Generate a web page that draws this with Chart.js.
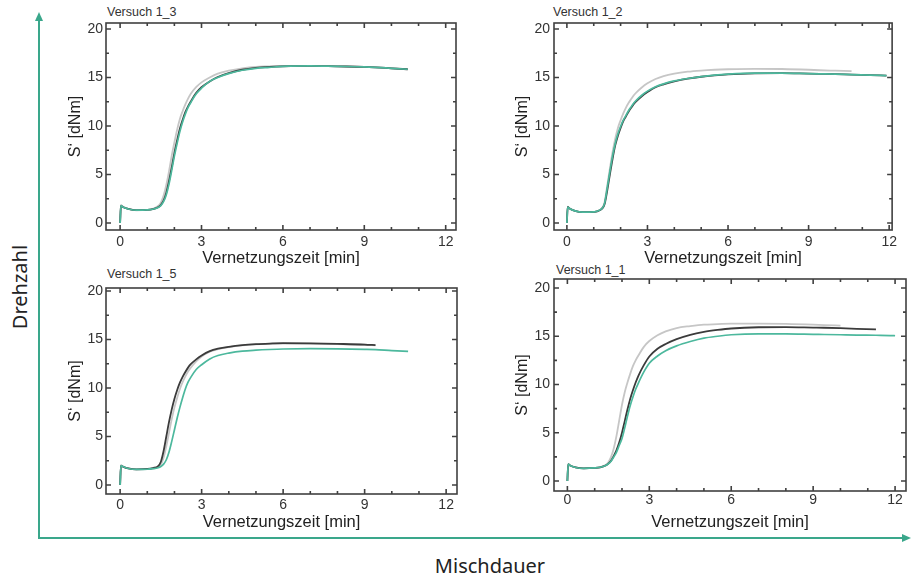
<!DOCTYPE html>
<html>
<head>
<meta charset="utf-8">
<script src="https://cdn.jsdelivr.net/npm/chart.js@4.4.1/dist/chart.umd.min.js"></script>
<style>
  html, body { margin: 0; padding: 0; background: #fff; }
  body { width: 911px; height: 574px; position: relative; overflow: hidden; font-family: "Liberation Sans", Arial, sans-serif; }
  .panel { position: absolute; }
  .ptitle { position: absolute; font-size: 12.5px; line-height: 13px; color: #333; white-space: nowrap; }
  .big { position: absolute; font-family: "Noto Sans", sans-serif; font-size: 20px; color: #222; white-space: nowrap; }
</style>
</head>
<body>
<svg width="911" height="574" style="position:absolute;left:0;top:0">
  <line x1="39" y1="539" x2="39" y2="20" stroke="#3aa78b" stroke-width="2"/>
  <polygon points="39,12 35,21 43,21" fill="#3aa78b"/>
  <line x1="38" y1="538" x2="903" y2="538" stroke="#3aa78b" stroke-width="2"/>
  <polygon points="911,538 902,534 902,542" fill="#3aa78b"/>
</svg>
<div class="big" style="left:19px;top:287px;transform:translate(-50%,-50%) rotate(-90deg)">Drehzahl</div>
<div class="big" style="left:490px;top:565px;transform:translate(-50%,-50%)">Mischdauer</div>

<div class="ptitle" style="left:107px;top:6px">Versuch 1_3</div>
<div class="ptitle" style="left:553px;top:6px">Versuch 1_2</div>
<div class="ptitle" style="left:107px;top:268px">Versuch 1_5</div>
<div class="ptitle" style="left:556px;top:264px">Versuch 1_1</div>

<div class="panel" id="p13"><canvas id="c13"></canvas></div>
<div class="panel" id="p12"><canvas id="c12"></canvas></div>
<div class="panel" id="p15"><canvas id="c15"></canvas></div>
<div class="panel" id="p11"><canvas id="c11"></canvas></div>

<script>
// time grid [min], shared by all curves
const minutes = [0, 0.03, 0.1, 0.3, 0.6, 1.0, 1.2, 1.4, 1.5, 1.6, 1.7, 1.8, 1.9, 2.0, 2.1, 2.2, 2.3, 2.4, 2.5, 2.6,
                 2.8, 3.0, 3.3, 3.6, 4.0, 4.5, 5.0, 5.5, 6, 7, 8, 9, 9.4, 10, 10.6, 11.3, 11.9, 12.0];

// S' [dNm] - Versuch 1_3
const v13Gray  = [0, 1.85, 1.7, 1.45, 1.3, 1.35, 1.45, 1.75, 2.1, 2.8, 3.9, 5.3, 6.9, 8.3, 9.6, 10.7, 11.5, 12.2, 12.8, 13.3,
                  14.0, 14.5, 15.0, 15.4, 15.7, 15.95, 16.1, 16.15, 16.2, 16.2, 16.15, 16.1, 16.05, 15.95, 15.85, null, null, null];
const v13Black = [0, 1.8, 1.65, 1.45, 1.32, 1.35, 1.43, 1.62, 1.85, 2.3, 3.1, 4.3, 5.7, 7.2, 8.5, 9.7, 10.6, 11.4, 12.0, 12.5,
                  13.4, 14.0, 14.6, 15.05, 15.45, 15.8, 16.0, 16.1, 16.15, 16.2, 16.15, 16.1, 16.05, 15.95, 15.85, null, null, null];
const v13Teal  = [0, 1.8, 1.65, 1.45, 1.32, 1.35, 1.42, 1.6, 1.8, 2.2, 2.9, 4.0, 5.4, 6.9, 8.2, 9.4, 10.4, 11.2, 11.9, 12.4,
                  13.3, 13.9, 14.6, 15.0, 15.4, 15.75, 15.95, 16.05, 16.15, 16.2, 16.15, 16.1, 16.05, 15.95, 15.85, null, null, null];

// Versuch 1_2
const v12Gray  = [0, 1.7, 1.5, 1.25, 1.12, 1.15, 1.3, 2.1, 3.8, 5.6, 7.3, 8.7, 9.8, 10.6, 11.3, 11.9, 12.4, 12.8, 13.2, 13.5,
                  14.0, 14.4, 14.85, 15.15, 15.4, 15.6, 15.72, 15.8, 15.85, 15.9, 15.88, 15.8, 15.75, 15.7, 15.65, null, null, null];
const v12Black = [0, 1.65, 1.5, 1.25, 1.12, 1.15, 1.28, 1.9, 3.3, 5.0, 6.6, 8.0, 9.0, 9.8, 10.5, 11.0, 11.5, 11.9, 12.3, 12.6,
                  13.1, 13.5, 14.0, 14.3, 14.6, 14.88, 15.08, 15.22, 15.32, 15.42, 15.45, 15.4, 15.38, 15.35, 15.3, 15.25, 15.2, null];
const v12Teal  = [0, 1.65, 1.5, 1.25, 1.12, 1.15, 1.3, 2.0, 3.6, 5.3, 6.9, 8.2, 9.2, 9.95, 10.6, 11.1, 11.6, 12.0, 12.4, 12.7,
                  13.2, 13.6, 14.05, 14.35, 14.65, 14.9, 15.1, 15.25, 15.35, 15.45, 15.45, 15.4, 15.38, 15.35, 15.3, 15.25, 15.2, null];

// Versuch 1_5
const v15Gray  = [0, 2.05, 1.9, 1.7, 1.6, 1.63, 1.7, 1.85, 2.1, 2.8, 4.0, 5.4, 6.8, 8.0, 9.0, 9.9, 10.6, 11.2, 11.7, 12.1,
                  12.75, 13.25, 13.75, 14.0, 14.22, 14.4, 14.5, 14.55, 14.58, 14.57, 14.52, 14.46, 14.4, null, null, null, null, null];
const v15Black = [0, 2.0, 1.9, 1.7, 1.6, 1.65, 1.75, 1.95, 2.4, 3.5, 5.0, 6.5, 7.8, 8.9, 9.8, 10.55, 11.15, 11.65, 12.1, 12.45,
                  12.95, 13.35, 13.8, 14.05, 14.25, 14.42, 14.52, 14.58, 14.62, 14.6, 14.55, 14.48, 14.42, null, null, null, null, null];
const v15Teal  = [0, 2.0, 1.9, 1.7, 1.6, 1.62, 1.68, 1.78, 1.9, 2.15, 2.6, 3.4, 4.5, 5.7, 6.9, 8.0, 9.0, 9.9, 10.6, 11.1,
                  11.9, 12.4, 13.0, 13.35, 13.6, 13.8, 13.9, 13.97, 14.02, 14.05, 14.03, 13.98, 13.95, 13.85, 13.78, null, null, null];

// Versuch 1_1
const v11Gray  = [0, 1.75, 1.6, 1.4, 1.3, 1.35, 1.42, 1.65, 1.95, 2.5, 3.4, 4.7, 6.3, 7.9, 9.2, 10.2, 11.1, 11.9, 12.5, 13.0,
                  13.9, 14.5, 15.1, 15.5, 15.85, 16.05, 16.2, 16.25, 16.3, 16.3, 16.28, 16.2, 16.15, 16.1, null, null, null, null];
const v11Black = [0, 1.75, 1.6, 1.4, 1.3, 1.35, 1.42, 1.6, 1.8, 2.1, 2.6, 3.2, 4.0, 5.0, 6.2, 7.4, 8.5, 9.4, 10.2, 10.9,
                  12.0, 12.9, 13.7, 14.2, 14.7, 15.15, 15.45, 15.65, 15.8, 15.93, 15.95, 15.9, 15.88, 15.83, 15.77, 15.7, null, null];
const v11Teal  = [0, 1.75, 1.6, 1.4, 1.3, 1.35, 1.42, 1.6, 1.78, 2.05, 2.5, 3.0, 3.7, 4.4, 5.5, 6.7, 7.8, 8.7, 9.5, 10.15,
                  11.3, 12.2, 12.95, 13.5, 14.0, 14.45, 14.8, 15.0, 15.15, 15.25, 15.25, 15.2, 15.18, 15.15, 15.12, 15.1, 15.07, 15.05];

const xTicks = [0, 3, 6, 9, 12];
const yTicks = [0, 5, 10, 15, 20];

const GRAY = '#c6c6c6', BLACK = '#3b3b3b', TEAL = '#4cb89d';
const FONT = '"Liberation Sans", Arial, sans-serif';

function series(vals, color, w) {
  return {
    data: minutes.map((t, i) => vals[i] == null ? null : { x: t, y: vals[i] }).filter(Boolean),
    borderColor: color,
    borderWidth: w,
    pointRadius: 0,
    cubicInterpolationMode: 'monotone',
    fill: false
  };
}

// frame with inward ticks on all four sides
const framePlugin = {
  id: 'frame',
  afterDatasetsDraw(chart) {
    const { ctx, chartArea: a, scales: { x, y } } = chart;
    ctx.save();
    ctx.strokeStyle = '#404040';
    ctx.lineWidth = 1.6;
    ctx.strokeRect(a.left, a.top, a.right - a.left, a.bottom - a.top);
    ctx.beginPath();
    for (let v = 0; v <= 12; v++) {
      const px = x.getPixelForValue(v), len = v % 3 === 0 ? 5 : 3;
      ctx.moveTo(px, a.bottom); ctx.lineTo(px, a.bottom - len);
      ctx.moveTo(px, a.top); ctx.lineTo(px, a.top + len);
    }
    for (let v = 0; v <= 20; v += 2.5) {
      const py = y.getPixelForValue(v), len = v % 5 === 0 ? 5 : 3;
      ctx.moveTo(a.left, py); ctx.lineTo(a.left + len, py);
      ctx.moveTo(a.right, py); ctx.lineTo(a.right - len, py);
    }
    ctx.stroke();
    ctx.restore();
  }
};

function makePanel(p) {
  const box = document.getElementById(p.box);
  box.style.left = (p.L - 50) + 'px';
  box.style.top = (p.T - 25) + 'px';
  box.style.width = (p.R - p.L + 55) + 'px';
  box.style.height = (p.B - p.T + 70) + 'px';

  new Chart(document.getElementById(p.canvas), {
    type: 'line',
    data: {
      datasets: [series(p.teal, TEAL, 1.7), series(p.black, BLACK, 1.8), series(p.gray, GRAY, 1.8)]
    },
    options: {
      responsive: true,
      maintainAspectRatio: false,
      animation: false,
      layout: { padding: { left: 0, top: 25, right: 5, bottom: 0 } },
      plugins: { legend: { display: false }, tooltip: { enabled: false } },
      scales: {
        x: {
          type: 'linear', min: p.xMin, max: p.xMax,
          afterBuildTicks: s => { s.ticks = xTicks.map(v => ({ value: v })); },
          afterFit: s => { s.height = 45; },
          grid: { display: false, drawTicks: false },
          border: { display: false },
          ticks: { color: '#333', font: { size: 14, family: FONT }, padding: p.xPad, maxRotation: 0, autoSkip: false },
          title: { display: true, text: 'Vernetzungszeit [min]', color: '#222', font: { size: 16.5, family: FONT },
                   padding: { top: 0, bottom: p.xTitlePad } }
        },
        y: {
          min: p.yMin, max: p.yMax,
          afterBuildTicks: s => { s.ticks = yTicks.map(v => ({ value: v })); },
          afterFit: s => { s.width = 50; },
          grid: { display: false, drawTicks: false },
          border: { display: false },
          ticks: { color: '#333', font: { size: 14, family: FONT }, padding: p.yPad, autoSkip: false },
          title: { display: true, text: 'S‘ [dNm]', color: '#222', font: { size: 16, family: FONT },
                   padding: { top: p.yTitlePad, bottom: 0 } }
        }
      }
    },
    plugins: [framePlugin]
  });
}

makePanel({ box: 'p13', canvas: 'c13', L: 106, T: 23, R: 456, B: 230,
  xMin: -0.52, xMax: 12.38, yMin: -0.72, yMax: 20.62, xPad: 4, xTitlePad: 7, yPad: 3, yTitlePad: 10,
  gray: v13Gray, black: v13Black, teal: v13Teal });
makePanel({ box: 'p12', canvas: 'c12', L: 554, T: 23, R: 896, B: 230,
  xMin: -0.48, xMax: 12.11, yMin: -0.72, yMax: 20.62, xPad: 4, xTitlePad: 7, yPad: 4, yTitlePad: 9,
  gray: v12Gray, black: v12Black, teal: v12Teal });
makePanel({ box: 'p15', canvas: 'c15', L: 106, T: 288, R: 457, B: 494,
  xMin: -0.52, xMax: 12.4, yMin: -0.93, yMax: 20.31, xPad: 3, xTitlePad: 7, yPad: 3, yTitlePad: 10,
  gray: v15Gray, black: v15Black, teal: v15Teal });
makePanel({ box: 'p11', canvas: 'c11', L: 554, T: 279, R: 906, B: 491,
  xMin: -0.49, xMax: 12.4, yMin: -1.04, yMax: 20.93, xPad: 1, xTitlePad: 4, yPad: 4, yTitlePad: 9,
  gray: v11Gray, black: v11Black, teal: v11Teal });
</script>
</body>
</html>
